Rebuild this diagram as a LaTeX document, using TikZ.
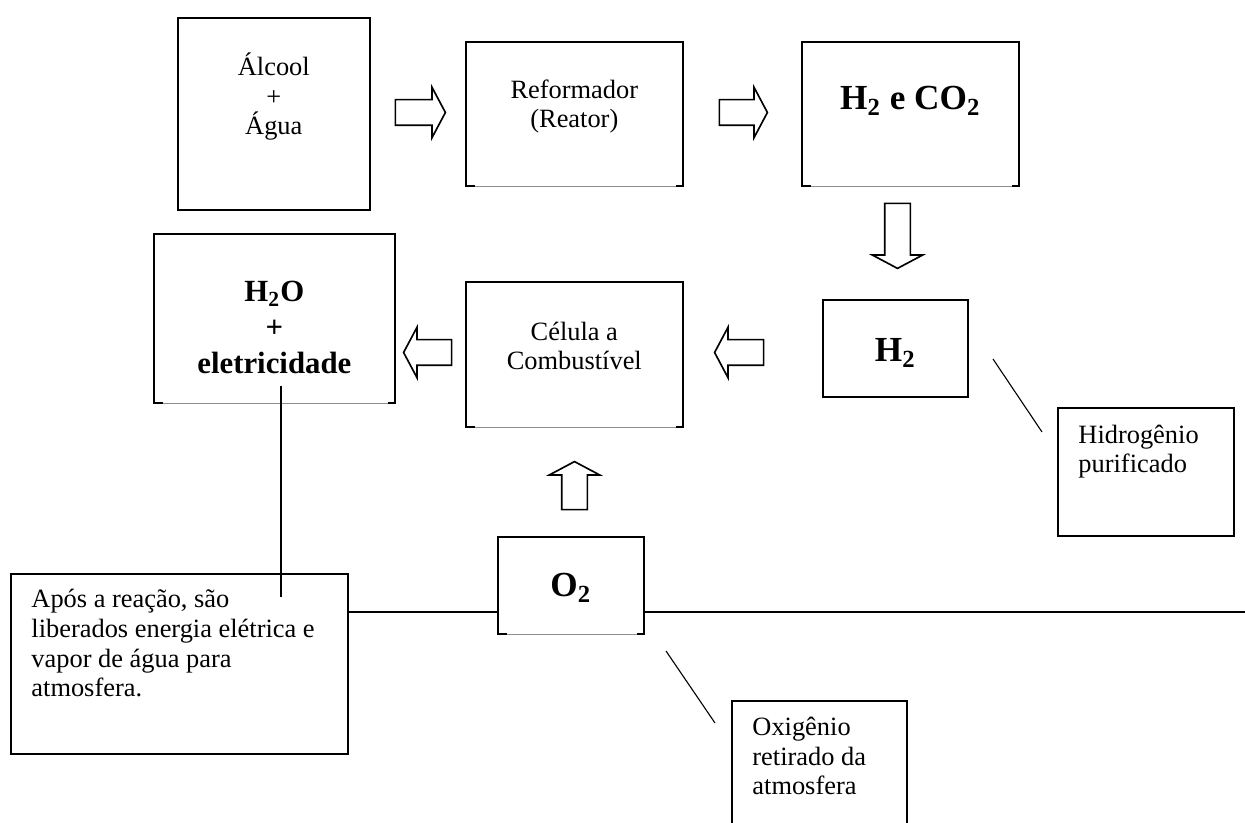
\documentclass[tikz,border=0pt]{standalone}
\usepackage{fontspec}
\setmainfont{Liberation Serif}
\usetikzlibrary{shapes.arrows,positioning,calc,backgrounds}
\newcommand\pxu{0.4545pt}
\tikzset{
  caixa/.style={draw=black,line width=0.75pt,fill=white,inner sep=0pt,anchor=north west},
  txt/.style={font=\fontsize{12}{13.5}\selectfont,align=center,inner sep=0pt,anchor=base},
  txtl/.style={txt,align=left,anchor=base west},
  grande/.style={txt,font=\fontsize{16}{18.4}\selectfont\bfseries},
  medio/.style={txt,font=\fontsize{14}{16.4}\selectfont\bfseries},
  seta/.style={single arrow,draw=black,line width=0.75pt,fill=white,inner xsep=0pt,inner ysep=12*\pxu,
    single arrow head extend=12.5*\pxu,single arrow tip angle=124},
  fio/.style={draw=black,line width=0.5pt},
}
\begin{document}
\begin{tikzpicture}[x=\pxu,y=-\pxu]
\path[use as bounding box] (0,0) rectangle (1245,823);
\clip (0,0) rectangle (1245,823);
% caixas
\node[caixa,minimum width=192*\pxu,minimum height=192*\pxu] (alcool) at (177,17) {};
\node[caixa,minimum width=217*\pxu,minimum height=144*\pxu] (reform) at (465,41) {};
\node[caixa,minimum width=217*\pxu,minimum height=144*\pxu] (gases) at (801,41) {};
\node[caixa,minimum width=241*\pxu,minimum height=169*\pxu] (agua) at (153,233) {};
\node[caixa,minimum width=217*\pxu,minimum height=145*\pxu] (celula) at (465,281) {};
\node[caixa,minimum width=145*\pxu,minimum height=97*\pxu] (hidro) at (822,299) {};
\node[caixa,minimum width=176*\pxu,minimum height=128*\pxu] (hpur) at (1057,407) {};
\node[caixa,minimum width=146*\pxu,minimum height=97*\pxu] (oxi) at (497,536) {};
\node[caixa,minimum width=337*\pxu,minimum height=180*\pxu] (nota) at (10,573) {};
\node[caixa,minimum width=175*\pxu,minimum height=140*\pxu] (oxnota) at (731,700) {};
% bordas de baixo abertas
\foreach \n in {reform,gases,agua,celula,oxi}{
  \draw[white,line width=1.3pt] ([xshift=10*\pxu]\n.south west) -- ([xshift=-8*\pxu]\n.south east);
  \draw[black!45,line width=0.5pt] ([xshift=10*\pxu]\n.south west) -- ([xshift=-8*\pxu]\n.south east);
}
% textos (ancorados na ultima linha)
\node[txt] (t-alcool) at ($(alcool.north)+(0,118)$) {Álcool\\+\\Água};
\node[txt] (t-reform) at ($(reform.north)+(0,87)$) {Reformador\\(Reator)};
\node[grande] (t-gases) at ($(gases.north)+(0,69)$) {H\textsubscript{2} e CO\textsubscript{2}};
\node[medio] (t-agua) at ($(agua.north)+(0,141)$) {H\textsubscript{2}O\\+\\eletricidade};
\node[txt] (t-celula) at ($(celula.north)+(0,89)$) {Célula a\\Combustível};
\node[grande] (t-hidro) at ($(hidro.north)+(0,63)$) {H\textsubscript{2}};
\node[txtl] (t-hpur) at ($(hpur.north west)+(21,66)$) {Hidrogênio\\purificado};
\node[grande] (t-oxi) at ($(oxi.north)+(0,61)$) {O\textsubscript{2}};
\node[txtl] (t-nota) at ($(nota.north west)+(21,124)$) {Após a reação, são\\liberados energia elétrica e\\vapor de água para\\atmosfera.};
\node[txtl] (t-oxnota) at ($(oxnota.north west)+(21,95)$) {Oxigênio\\retirado da\\atmosfera};
% setas
\node[seta,minimum height=50*\pxu] (s1) at (417,112.5) {};
\node[seta,minimum height=48*\pxu] (s2) at (740,112.5) {};
\node[seta,minimum height=65*\pxu,rotate=-90] (s3) at (897.5,232.5) {};
\node[seta,minimum height=48*\pxu,rotate=180] (s4) at (431,352.5) {};
\node[seta,minimum height=49*\pxu,rotate=180] (s5) at (742.5,352.5) {};
\node[seta,minimum height=48*\pxu,rotate=90] (s6) at (574.5,489) {};
% linhas
\coordinate (atm) at (1245,612);
\coordinate (liga1) at (281,386);
\coordinate (liga2) at (281,597);
\coordinate (d1a) at (993,359);
\coordinate (d1b) at (1042,432);
\coordinate (d2a) at (666,651);
\coordinate (d2b) at (715,723);
\begin{scope}[on background layer]
\draw[fio] (nota.east |- atm) -- (atm);
\end{scope}
\draw[fio] (liga1) -- (liga2);
\draw[fio] (d1a) -- (d1b);
\draw[fio] (d2a) -- (d2b);
\end{tikzpicture}
\end{document}
